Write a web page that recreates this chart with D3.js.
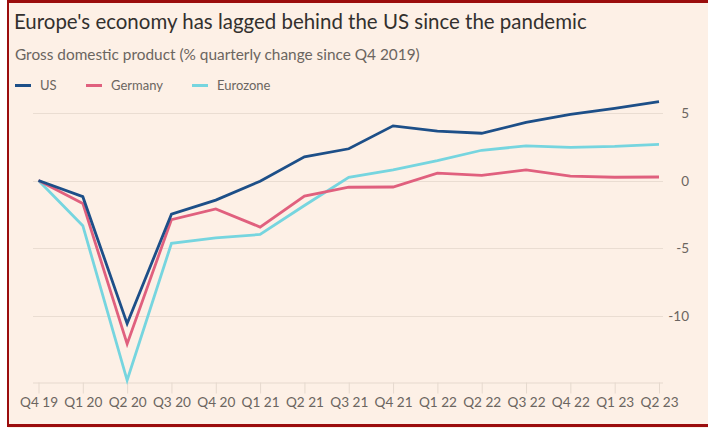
<!DOCTYPE html>
<html>
<head>
<meta charset="utf-8">
<script src="https://cdn.jsdelivr.net/npm/d3@7/dist/d3.min.js"></script>
<style>
  html, body { margin: 0; padding: 0; background: #ffffff; }
  svg { display: block; }
  text { font-family: Lato, "Open Sans", sans-serif; }
</style>
</head>
<body>
<svg id="chart" width="708" height="428"></svg>
<script>
// Chart data
const quarters = ["Q4 19", "Q1 20", "Q2 20", "Q3 20", "Q4 20", "Q1 21", "Q2 21", "Q3 21",
  "Q4 21", "Q1 22", "Q2 22", "Q3 22", "Q4 22", "Q1 23", "Q2 23"];
const usValues = [0, -1.2, -10.6, -2.5, -1.45, -0.05, 1.75, 2.35, 4.05, 3.65, 3.5, 4.3, 4.9, 5.35, 5.85];
const germanyValues = [0, -1.7, -12.1, -2.9, -2.1, -3.45, -1.15, -0.5, -0.48, 0.55, 0.38, 0.78, 0.33, 0.24, 0.26];
const eurozoneValues = [0, -3.35, -14.8, -4.65, -4.25, -4.0, -1.85, 0.24, 0.78, 1.47, 2.24, 2.56, 2.46, 2.53, 2.68];
const yTicks = [5, 0, -5, -10];
const seriesNames = ["US", "Germany", "Eurozone"];
const seriesColors = ["#1d4f88", "#e0607e", "#76d5df"];

const svg = d3.select("#chart");
const width = 708, height = 428;
const bg = "#fdf0e6";

// background + frame
svg.append("rect").attr("x", 8).attr("y", 0).attr("width", width - 8).attr("height", height).attr("fill", bg);
svg.append("line").attr("x1", 8).attr("x2", width).attr("y1", 1.5).attr("y2", 1.5)
  .attr("stroke", "#9b0d0d").attr("stroke-width", 3);
svg.append("line").attr("x1", 8).attr("x2", width).attr("y1", 425.5).attr("y2", 425.5)
  .attr("stroke", "#9b0d0d").attr("stroke-width", 3);
svg.append("line").attr("x1", 8).attr("x2", 8).attr("y1", 0).attr("y2", 427)
  .attr("stroke", "#9b0d0d").attr("stroke-width", 2);

// title + subtitle, fitted to the reference widths
function fitText(sel, target) {
  const w = sel.node().getComputedTextLength();
  const fs = parseFloat(sel.style("font-size"));
  sel.style("font-size", (fs * target / w) + "px");
}
const title = svg.append("text").attr("x", 14).attr("y", 29)
  .style("font-size", "19px").attr("fill", "#33302e")
  .text("Europe's economy has lagged behind the US since the pandemic");
fitText(title, 573);
const subtitle = svg.append("text").attr("x", 15).attr("y", 60)
  .style("font-size", "14px").attr("fill", "#6b6560")
  .text("Gross domestic product (% quarterly change since Q4 2019)");
fitText(subtitle, 405);

// legend
const legendX = [15, 86, 192];
const legend = svg.append("g");
seriesNames.forEach((name, i) => {
  legend.append("line").attr("x1", legendX[i]).attr("x2", legendX[i] + 16)
    .attr("y1", 85.5).attr("y2", 85.5).attr("stroke", seriesColors[i]).attr("stroke-width", 3);
  legend.append("text").attr("x", legendX[i] + 25).attr("y", 90)
    .style("font-size", "13px").attr("fill", "#6b6560").text(name);
});

// scales
const xScale = d3.scalePoint().domain(quarters).range([38.5, 659]);
const yScale = d3.scaleLinear().domain([0, 5]).range([180.5, 113]);
const axisY = 382.5;

// grid lines
svg.append("g").selectAll("line").data(yTicks).enter().append("line")
  .attr("x1", 33).attr("x2", 663)
  .attr("y1", d => Math.round(yScale(d)) + 0.5).attr("y2", d => Math.round(yScale(d)) + 0.5)
  .attr("stroke", "#eaddd2").attr("stroke-width", 1);

// y axis on the right
const yAxis = d3.axisRight(yScale).tickValues(yTicks).tickSize(0).tickPadding(0)
  .tickFormat(d => d);
const gy = svg.append("g").attr("transform", "translate(689,0)").call(yAxis);
gy.select(".domain").remove();
gy.selectAll("text").attr("text-anchor", "end").attr("fill", "#6b6560")
  .style("font-size", "13.5px").attr("dy", "0.35em");

// x axis
const xAxis = d3.axisBottom(xScale).tickSize(11).tickPadding(4);
const gx = svg.append("g").attr("transform", `translate(0,${axisY})`).call(xAxis);
gx.select(".domain").attr("d", "M33,0.5H663").attr("stroke", "#e6d9ce");
gx.selectAll(".tick line").attr("stroke", "#e6d9ce");
gx.selectAll("text").attr("fill", "#6b6560").style("font-size", "13.6px");

// lines
const allSeries = [usValues, germanyValues, eurozoneValues];
const line = d3.line().x((d, i) => xScale(quarters[i])).y(d => yScale(d));
[2, 1, 0].forEach(i => {
  svg.append("path").datum(allSeries[i])
    .attr("d", line).attr("fill", "none")
    .attr("stroke", seriesColors[i]).attr("stroke-width", 2.8)
    .attr("stroke-linejoin", "miter");
});
</script>
</body>
</html>
